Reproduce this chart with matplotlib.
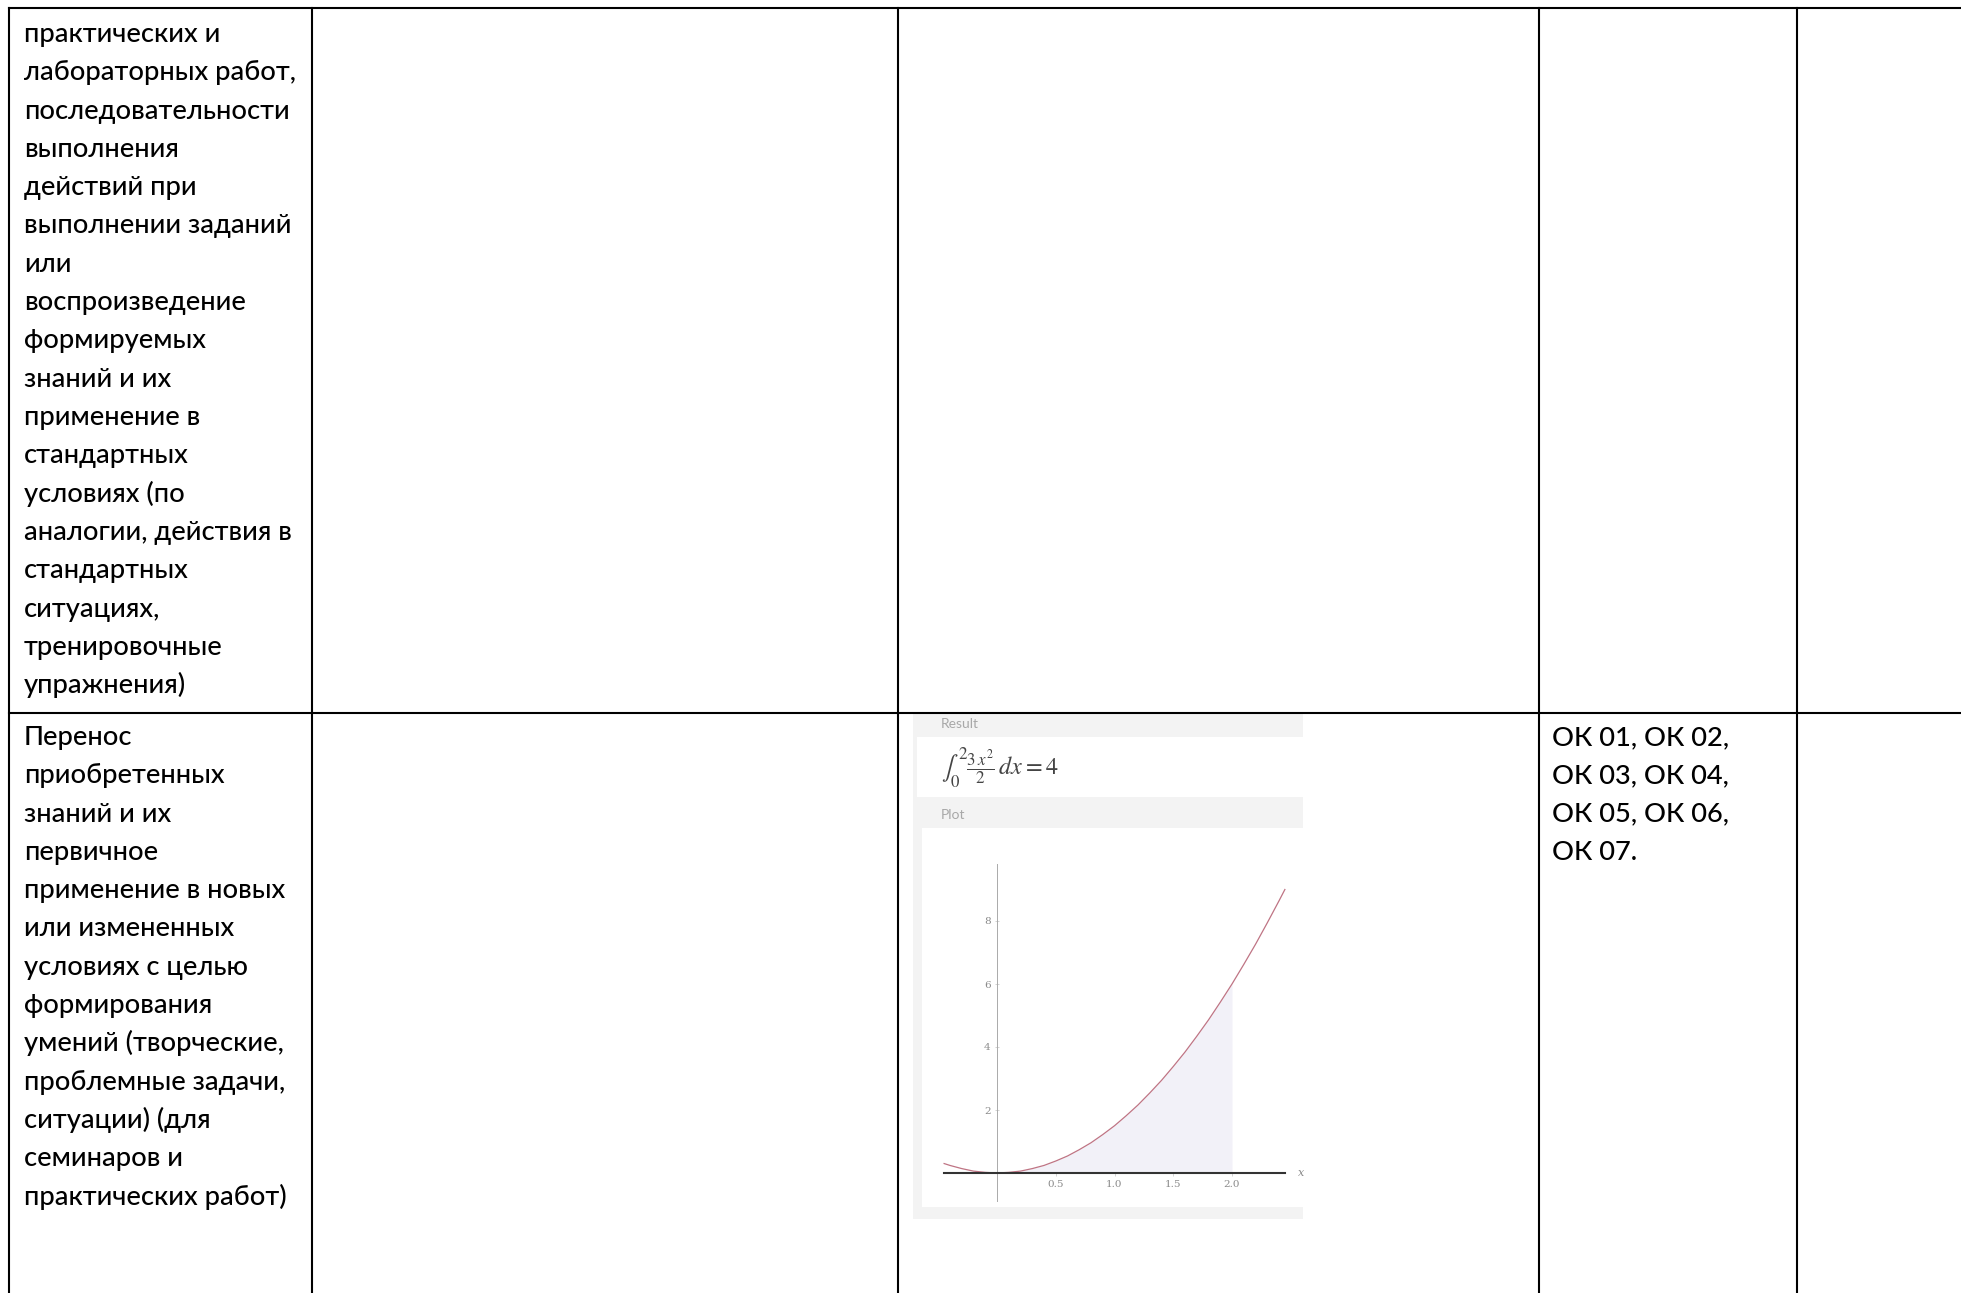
import matplotlib
matplotlib.use('Agg')
import matplotlib.pyplot as plt
from matplotlib.patches import Rectangle

# шрифт, похожий на Calibri
plt.rcParams['font.family'] = ['Lato', 'Open Sans', 'DejaVu Sans']
plt.rcParams['mathtext.fontset'] = 'stix'

W, H = 1961, 1293

# тексты ячеек таблицы
row1_col1 = ['практических и', 'лабораторных работ,', 'последовательности',
             'выполнения', 'действий при', 'выполнении заданий', 'или',
             'воспроизведение', 'формируемых', 'знаний и их', 'применение в',
             'стандартных', 'условиях (по', 'аналогии, действия в',
             'стандартных', 'ситуациях,', 'тренировочные', 'упражнения)']
row2_col1 = ['Перенос', 'приобретенных', 'знаний и их', 'первичное',
             'применение в новых', 'или измененных', 'условиях с целью',
             'формирования', 'умений (творческие,', 'проблемные задачи,',
             'ситуации) (для', 'семинаров и', 'практических работ)']
row2_col4 = ['ОК 01, ОК 02,', 'ОК 03, ОК 04,', 'ОК 05, ОК 06,', 'ОК 07.']

# график y = 3x^2/2
curve_x = [-0.45, -0.4, -0.3, -0.2, -0.1, 0.0, 0.1, 0.2, 0.3, 0.4, 0.5,
           0.6, 0.7, 0.8, 0.9, 1.0, 1.1, 1.2, 1.3, 1.4, 1.5, 1.6, 1.7,
           1.8, 1.9, 2.0, 2.1, 2.2, 2.3, 2.4, 2.45]
curve_y = [0.30, 0.24, 0.14, 0.06, 0.02, 0.0, 0.02, 0.06, 0.14, 0.24, 0.38,
           0.54, 0.74, 0.96, 1.22, 1.50, 1.82, 2.16, 2.54, 2.94, 3.38, 3.84,
           4.34, 4.86, 5.42, 6.00, 6.62, 7.26, 7.94, 8.64, 9.00]
fill_from, fill_to = 0.0, 2.0
x_ticks = [0.5, 1.0, 1.5, 2.0]
x_tick_labels = ['0.5', '1.0', '1.5', '2.0']
y_ticks = [2, 4, 6, 8]
y_tick_labels = ['2', '4', '6', '8']

fig = plt.figure(figsize=(W / 100, H / 100), dpi=100)
page = fig.add_axes([0, 0, 1, 1])
page.set_xlim(0, W)
page.set_ylim(H, 0)
page.axis('off')

# линии таблицы
col_x = [9, 312, 898, 1539, 1797]
top_y = 8
row_y = 713
lw = 1.5
page.plot([col_x[0], W], [top_y, top_y], color='black', lw=lw)
page.plot([col_x[0], W], [row_y, row_y], color='black', lw=lw)
for x in col_x:
    page.plot([x, x], [top_y, H], color='black', lw=lw)

# текст в ячейках
fs = 19.6
step = 38.3
txt = dict(fontsize=fs, va='baseline', color='black', fontweight='medium')
for i, line in enumerate(row1_col1):
    page.text(24, 42 + i * step, line, **txt)
for i, line in enumerate(row2_col1):
    page.text(24, 745 + i * step, line, **txt)
for i, line in enumerate(row2_col4):
    page.text(1552, 745 + i * step, line, **txt)

# вставленный скриншот (Result / Plot)
page.add_patch(Rectangle((913, 714), 390, 505, facecolor='#f3f3f3', edgecolor='none'))
page.add_patch(Rectangle((917, 737), 386, 60, facecolor='white', edgecolor='none'))
page.add_patch(Rectangle((922, 828), 381, 379, facecolor='white', edgecolor='none'))
page.text(941, 724, 'Result', color='#a8a8a8', fontsize=10, va='center')
page.text(941, 768, r'$\int_0^{2}\frac{3\,x^2}{2}\,dx = 4$', fontsize=17.5,
          color='#444444', va='center')
page.text(941, 815, 'Plot', color='#a8a8a8', fontsize=10, va='center')

# сам график
px0, px1, py0, py1 = 922, 1303, 828, 1207
ox, oy, sx, sy = 997, 1173, 117.5, 31.5
ax = fig.add_axes([px0 / W, 1 - py1 / H, (px1 - px0) / W, (py1 - py0) / H])
ax.set_xlim((px0 - ox) / sx, (px1 - ox) / sx)
ax.set_ylim((oy - py1) / sy, (oy - py0) / sy)
ax.patch.set_alpha(0)

fx = [x for x in curve_x if fill_from <= x <= fill_to]
fy = [y for x, y in zip(curve_x, curve_y) if fill_from <= x <= fill_to]
ax.fill_between(fx, fy, 0, color='#f2f1f8', lw=0)
ax.plot(curve_x, curve_y, color='#bf7484', lw=0.9)

for s in ['top', 'right']:
    ax.spines[s].set_visible(False)
ax.spines['bottom'].set_position(('data', 0))
ax.spines['bottom'].set_bounds(curve_x[0], curve_x[-1])
ax.spines['bottom'].set_color('#333333')
ax.spines['bottom'].set_linewidth(1.5)
ax.spines['left'].set_position(('data', 0))
ax.spines['left'].set_bounds(-0.9, 9.8)
ax.spines['left'].set_color('#aaaaaa')
ax.spines['left'].set_linewidth(0.7)

ax.set_xticks(x_ticks)
ax.set_xticklabels(x_tick_labels, fontfamily='DejaVu Serif')
ax.set_yticks(y_ticks)
ax.set_yticklabels(y_tick_labels, fontfamily='DejaVu Serif')
ax.tick_params(axis='x', length=2, width=0.6, color='#cccccc', labelsize=7.5,
               labelcolor='#8a8a8a', pad=3)
ax.tick_params(axis='y', length=3, width=0.6, direction='inout', color='#cccccc',
               labelsize=7.5, labelcolor='#8a8a8a', pad=3)
ax.text(2.56, 0, 'x', style='italic', fontfamily='DejaVu Serif', color='#888888',
        fontsize=8, va='center')

fig.savefig('out.png', dpi=100)
